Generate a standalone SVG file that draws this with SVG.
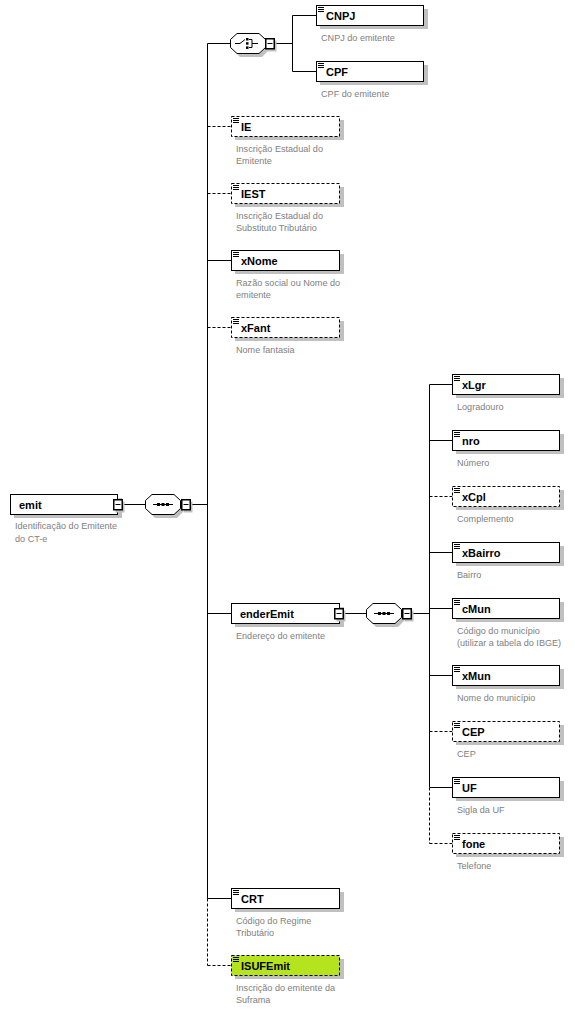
<svg xmlns="http://www.w3.org/2000/svg" xmlns:xlink="http://www.w3.org/1999/xlink" width="575" height="1016" viewBox="0 0 575 1016">
<style>
.bx{fill:#fff;stroke:#000;stroke-width:1}
.opt{stroke-dasharray:3 2}
.sh{fill:#c0c0c0}
.nm{font-family:"Liberation Sans",Arial,sans-serif;font-weight:bold;font-size:11px;fill:#000}
.ds{font-family:"Liberation Sans",Arial,sans-serif;font-size:9.1px;fill:#808080}
.ln{stroke:#000;stroke-width:1;fill:none}
</style>
<defs>
<g id="ic"><path d="M2 2.5h6M2 4.5h6M2 6.5h6" stroke="#000" stroke-width="1"/></g>
<g id="mb"><rect x="2.5" y="2.5" width="9" height="11" class="sh"/><rect x="0.75" y="0.75" width="8.5" height="10" fill="#fff" stroke="#000" stroke-width="1.5"/><path d="M2.5 5.5h5" stroke="#000"/></g>
<g id="seq"><polygon points="10,3 32,3 38,9 38,18 32,24 10,24 4,18 4,9" class="sh"/><polygon points="7,0.5 29,0.5 35.5,6.5 35.5,14.5 29,20.5 7,20.5 0.5,14.5 0.5,6.5" class="bx"/><path d="M8 10.5h20" stroke="#000"/><rect x="12" y="9" width="3" height="3"/><rect x="16.5" y="9" width="3" height="3"/><rect x="21" y="9" width="3" height="3"/></g>
<g id="cho"><polygon points="10,3 32,3 38,9 38,18 32,24 10,24 4,18 4,9" class="sh"/><polygon points="7,0.5 29,0.5 35.5,6.5 35.5,14.5 29,20.5 7,20.5 0.5,14.5 0.5,6.5" class="bx"/><path d="M5 10.5h5l5-4" stroke="#000" fill="none"/><rect x="16" y="5" width="2.5" height="2.5"/><rect x="16" y="9.2" width="2.5" height="2.5"/><rect x="16" y="13.4" width="2.5" height="2.5"/><path d="M19 6.5h3v8h-3M22 10.5h6" stroke="#000" fill="none"/></g>
</defs>

<g id="connectors" class="ln">
<path d="M122 504.5h23M190 504.5h17.5"/>
<path d="M207.5 43.5V898.5"/>
<path d="M207.5 898.5V965.5" class="opt"/>
<path d="M207.5 43.5h22.5M274 43.5h18.5M292.5 15.5V71.5M292.5 15.5h23.5M292.5 71.5h23.5"/>
<path d="M207.5 126.5h23.5M207.5 193.5h23.5M207.5 327.5h23.5M207.5 965.5h23.5" class="opt"/>
<path d="M207.5 260.5h23.5M207.5 613.5h23.5M207.5 898.5h23.5"/>
<path d="M343 613.5h23M411 613.5h18.5"/>
<path d="M429.5 384.5V787.5"/>
<path d="M429.5 787.5V843.5" class="opt"/>
<path d="M429.5 384.5h23M429.5 440.5h23M429.5 552.5h23M429.5 608.5h23M429.5 675.5h23M429.5 787.5h23"/>
<path d="M429.5 496.5h23M429.5 731.5h23M429.5 843.5h23" class="opt"/>
</g>

<g id="emit">
<rect x="14" y="498" width="108" height="20" class="sh"/>
<rect x="10.5" y="494.5" width="107" height="20" class="bx"/>
<text class="nm" x="19" y="509">emit</text>
<use xlink:href="#mb" x="113" y="499"/>
<text class="ds" x="15" y="529">Identificação do Emitente</text>
<text class="ds" x="15" y="541.5">do CT-e</text>
</g>
<g id="emit-seq"><use xlink:href="#seq" x="145" y="494"/><use xlink:href="#mb" x="181" y="499"/></g>
<g id="choice"><use xlink:href="#cho" x="230" y="33"/><use xlink:href="#mb" x="265" y="38"/></g>

<g id="CNPJ">
<rect x="320" y="9" width="108" height="20" class="sh"/>
<rect x="316.5" y="5.5" width="107" height="20" class="bx"/>
<use xlink:href="#ic" x="316" y="5"/>
<text class="nm" x="326" y="20">CNPJ</text>
<text class="ds" x="321" y="40.5">CNPJ do emitente</text>
</g>
<g id="CPF">
<rect x="320" y="65" width="108" height="20" class="sh"/>
<rect x="316.5" y="61.5" width="107" height="20" class="bx"/>
<use xlink:href="#ic" x="316" y="61"/>
<text class="nm" x="326" y="76">CPF</text>
<text class="ds" x="321" y="96.5">CPF do emitente</text>
</g>

<g id="IE">
<rect x="235" y="120" width="109" height="20" class="sh"/>
<rect x="231.5" y="116.5" width="108" height="20" class="bx opt"/>
<use xlink:href="#ic" x="231" y="116"/>
<text class="nm" x="241" y="131">IE</text>
<text class="ds" x="236" y="151.5">Inscrição Estadual do</text>
<text class="ds" x="236" y="164">Emitente</text>
</g>
<g id="IEST">
<rect x="235" y="187" width="109" height="20" class="sh"/>
<rect x="231.5" y="183.5" width="108" height="20" class="bx opt"/>
<use xlink:href="#ic" x="231" y="183"/>
<text class="nm" x="241" y="198">IEST</text>
<text class="ds" x="236" y="218.5">Inscrição Estadual do</text>
<text class="ds" x="236" y="231">Substituto Tributário</text>
</g>
<g id="xNome">
<rect x="235" y="254" width="109" height="20" class="sh"/>
<rect x="231.5" y="250.5" width="108" height="20" class="bx"/>
<use xlink:href="#ic" x="231" y="250"/>
<text class="nm" x="241" y="265">xNome</text>
<text class="ds" x="236" y="285.5">Razão social ou Nome do</text>
<text class="ds" x="236" y="298">emitente</text>
</g>
<g id="xFant">
<rect x="235" y="321" width="109" height="20" class="sh"/>
<rect x="231.5" y="317.5" width="108" height="20" class="bx opt"/>
<use xlink:href="#ic" x="231" y="317"/>
<text class="nm" x="241" y="332">xFant</text>
<text class="ds" x="236" y="352.5">Nome fantasia</text>
</g>

<g id="enderEmit">
<rect x="235" y="607" width="109" height="20" class="sh"/>
<rect x="231.5" y="603.5" width="108" height="20" class="bx"/>
<text class="nm" x="240" y="618">enderEmit</text>
<use xlink:href="#mb" x="334" y="608"/>
<text class="ds" x="236" y="639">Endereço do emitente</text>
</g>
<g id="ender-seq"><use xlink:href="#seq" x="366" y="603"/><use xlink:href="#mb" x="402" y="608"/></g>

<g id="xLgr">
<rect x="456" y="378" width="108" height="20" class="sh"/>
<rect x="452.5" y="374.5" width="107" height="20" class="bx"/>
<use xlink:href="#ic" x="452" y="374"/>
<text class="nm" x="462" y="389">xLgr</text>
<text class="ds" x="457" y="409.5">Logradouro</text>
</g>
<g id="nro">
<rect x="456" y="434" width="108" height="20" class="sh"/>
<rect x="452.5" y="430.5" width="107" height="20" class="bx"/>
<use xlink:href="#ic" x="452" y="430"/>
<text class="nm" x="462" y="445">nro</text>
<text class="ds" x="457" y="465.5">Número</text>
</g>
<g id="xCpl">
<rect x="456" y="490" width="108" height="20" class="sh"/>
<rect x="452.5" y="486.5" width="107" height="20" class="bx opt"/>
<use xlink:href="#ic" x="452" y="486"/>
<text class="nm" x="462" y="501">xCpl</text>
<text class="ds" x="457" y="521.5">Complemento</text>
</g>
<g id="xBairro">
<rect x="456" y="546" width="108" height="20" class="sh"/>
<rect x="452.5" y="542.5" width="107" height="20" class="bx"/>
<use xlink:href="#ic" x="452" y="542"/>
<text class="nm" x="462" y="557">xBairro</text>
<text class="ds" x="457" y="577.5">Bairro</text>
</g>
<g id="cMun">
<rect x="456" y="602" width="108" height="20" class="sh"/>
<rect x="452.5" y="598.5" width="107" height="20" class="bx"/>
<use xlink:href="#ic" x="452" y="598"/>
<text class="nm" x="462" y="613">cMun</text>
<text class="ds" x="457" y="633.5">Código do município</text>
<text class="ds" x="457" y="646">(utilizar a tabela do IBGE)</text>
</g>
<g id="xMun">
<rect x="456" y="669" width="108" height="20" class="sh"/>
<rect x="452.5" y="665.5" width="107" height="20" class="bx"/>
<use xlink:href="#ic" x="452" y="665"/>
<text class="nm" x="462" y="680">xMun</text>
<text class="ds" x="457" y="700.5">Nome do município</text>
</g>
<g id="CEP">
<rect x="456" y="725" width="108" height="20" class="sh"/>
<rect x="452.5" y="721.5" width="107" height="20" class="bx opt"/>
<use xlink:href="#ic" x="452" y="721"/>
<text class="nm" x="462" y="736">CEP</text>
<text class="ds" x="457" y="756.5">CEP</text>
</g>
<g id="UF">
<rect x="456" y="781" width="108" height="20" class="sh"/>
<rect x="452.5" y="777.5" width="107" height="20" class="bx"/>
<use xlink:href="#ic" x="452" y="777"/>
<text class="nm" x="462" y="792">UF</text>
<text class="ds" x="457" y="812.5">Sigla da UF</text>
</g>
<g id="fone">
<rect x="456" y="837" width="108" height="20" class="sh"/>
<rect x="452.5" y="833.5" width="107" height="20" class="bx opt"/>
<use xlink:href="#ic" x="452" y="833"/>
<text class="nm" x="462" y="848">fone</text>
<text class="ds" x="457" y="868.5">Telefone</text>
</g>

<g id="CRT">
<rect x="235" y="892" width="109" height="20" class="sh"/>
<rect x="231.5" y="888.5" width="108" height="20" class="bx"/>
<use xlink:href="#ic" x="231" y="888"/>
<text class="nm" x="241" y="903">CRT</text>
<text class="ds" x="236" y="923.5">Código do Regime</text>
<text class="ds" x="236" y="936">Tributário</text>
</g>
<g id="ISUFEmit">
<rect x="235" y="959" width="109" height="20" class="sh"/>
<rect x="231.5" y="955.5" width="108" height="20" class="bx opt" style="fill:#b5e31e"/>
<use xlink:href="#ic" x="231" y="955"/>
<text class="nm" x="241" y="970">ISUFEmit</text>
<text class="ds" x="236" y="990.5">Inscrição do emitente da</text>
<text class="ds" x="236" y="1003">Suframa</text>
</g>
</svg>
